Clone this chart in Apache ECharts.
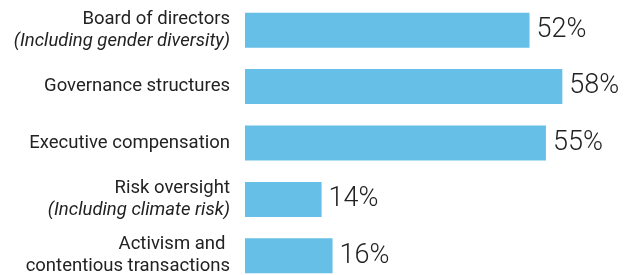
<html>
<head>
    <meta charset='utf-8' />
    <script src="https://cdn.jsdelivr.net/npm/echarts@6/dist/echarts.min.js"></script>
    <title>Governance topics</title>
    <style>
        body { margin: 0; background: #fff; overflow: hidden; }
        #chart { width: 632px; height: 275px; }
    </style>
</head>
<body>
    <div id="chart"></div>
    <script type="text/javascript">
        var categories = [
            ['Board of directors', '(Including gender diversity)'],
            ['Governance structures'],
            ['Executive compensation'],
            ['Risk oversight', '(Including climate risk)'],
            ['Activism and ', 'contentious transactions']
        ];
        var italicSecond = [true, false, false, true, false];
        var values = [52, 58, 55, 14, 16];

        var labels = categories.map(function(c, i) {
            if (c.length === 1) return '{a|' + c[0] + '}';
            return '{a|' + c[0] + '}\n{' + (italicSecond[i] ? 'b' : 'a') + '|' + c[1] + '}';
        });

        var chart = echarts.init(document.getElementById('chart'));
        chart.setOption({
            animation: false,
            grid: { left: 245, top: 2, height: 282, width: 383, outerBoundsMode: 'none', containLabel: false },
            xAxis: {
                type: 'value', min: 0, max: 70, show: false
            },
            yAxis: {
                type: 'category',
                inverse: true,
                data: labels,
                axisLine: { show: false },
                axisTick: { show: false },
                axisLabel: {
                    margin: 15,
                    align: 'right',
                    rich: {
                        a: { fontFamily: 'Roboto', fontSize: 18.5, color: '#222', lineHeight: 22, align: 'right' },
                        b: { fontFamily: 'Roboto', fontSize: 18.5, fontStyle: 'italic', color: '#222', lineHeight: 22, align: 'right' }
                    }
                }
            },
            series: [{
                type: 'bar',
                data: values,
                barWidth: 35,
                itemStyle: { color: '#66BFE6' },
                label: {
                    show: true,
                    position: 'right',
                    distance: 7,
                    formatter: '{c}%',
                    fontFamily: 'Roboto',
                    fontWeight: 300,
                    fontSize: 27,
                    color: '#222'
                }
            }]
        });
    </script>
</body>
</html>
